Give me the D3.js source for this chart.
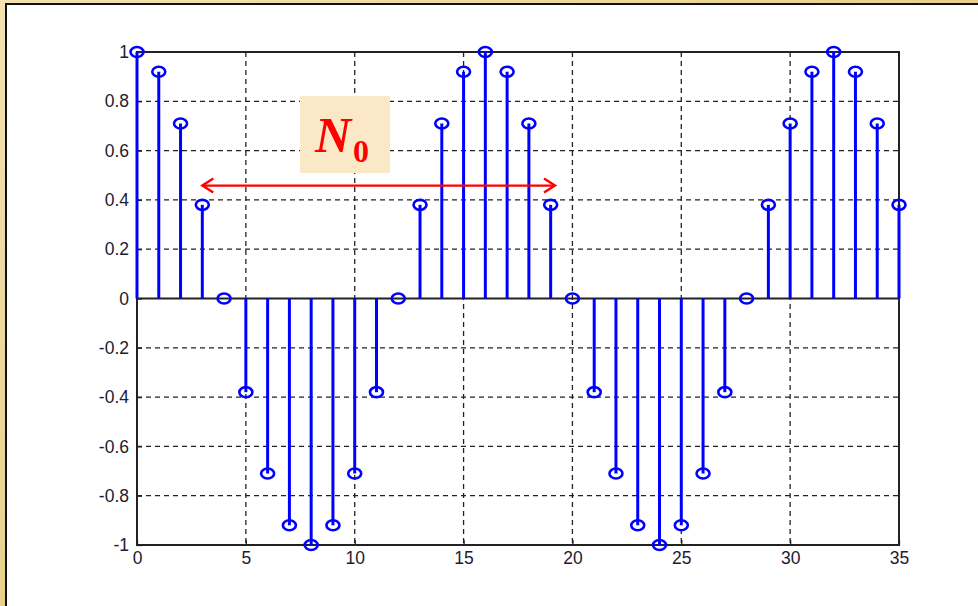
<!DOCTYPE html>
<html>
<head>
<meta charset="utf-8">
<script src="https://cdn.jsdelivr.net/npm/d3@7"></script>
<style>
  html, body { margin: 0; padding: 0; background: #efd9a0; }
  svg { display: block; }
</style>
</head>
<body>
<svg id="chart" width="978" height="606"></svg>
<script>
// sample index n = 0..35 and the stem values
var samples = [0,1,2,3,4,5,6,7,8,9,10,11,12,13,14,15,16,17,18,19,20,21,22,23,24,25,26,27,28,29,30,31,32,33,34,35];
var values = [1, 0.92, 0.71, 0.38, 0, -0.38, -0.71, -0.92, -1, -0.92, -0.71, -0.38,
              0, 0.38, 0.71, 0.92, 1, 0.92, 0.71, 0.38, 0, -0.38, -0.71, -0.92,
              -1, -0.92, -0.71, -0.38, 0, 0.38, 0.71, 0.92, 1, 0.92, 0.71, 0.38];
var xTicks = [0, 5, 10, 15, 20, 25, 30, 35];
var yTicks = [-1, -0.8, -0.6, -0.4, -0.2, 0, 0.2, 0.4, 0.6, 0.8, 1];
var arrowSpan = [3, 19.2];   // where the N0 arrow sits, in sample units
var arrowLevel = 0.458;

const svg = d3.select("#chart");

// gold frame + white panel
var defs = svg.append("defs");
var grad = defs.append("linearGradient").attr("id", "gold")
    .attr("x1", 0).attr("y1", 0).attr("x2", 1).attr("y2", 1);
grad.append("stop").attr("offset", "0%").attr("stop-color", "#f3e2b0");
grad.append("stop").attr("offset", "50%").attr("stop-color", "#e9d08e");
grad.append("stop").attr("offset", "100%").attr("stop-color", "#f1dca6");
svg.append("rect").attr("width", 978).attr("height", 606).attr("fill", "url(#gold)");
svg.append("rect").attr("x", 6).attr("y", 4).attr("width", 980).attr("height", 610)
    .attr("fill", "#fff").attr("stroke", "#111").attr("stroke-width", 2);

var x = d3.scaleLinear().domain([0, 35]).range([137, 899]);
var y = d3.scaleLinear().domain([-1, 1]).range([545, 52]);

// grid
const grid = svg.append("g")
    .attr("stroke", "#222")
    .attr("stroke-width", 1.3)
    .attr("stroke-dasharray", "5,4");
grid.selectAll("line.v")
    .data(xTicks.filter(d => d > 0 && d < 35))
    .enter().append("line")
    .attr("x1", d => x(d)).attr("x2", d => x(d))
    .attr("y1", y(1)).attr("y2", y(-1));
grid.selectAll("line.h")
    .data(yTicks.filter(d => d > -1 && d < 1 && d != 0))
    .enter().append("line")
    .attr("x1", x(0)).attr("x2", x(35))
    .attr("y1", d => y(d)).attr("y2", d => y(d));

// axes, ticks on the inside like matlab
const xAxis = svg.append("g")
    .attr("transform", `translate(0,${y(-1)})`)
    .call(d3.axisBottom(x).tickValues(xTicks).tickSizeInner(-5).tickSizeOuter(0).tickPadding(10)
        .tickFormat(d => String(d)));
const yAxis = svg.append("g")
    .attr("transform", `translate(${x(0)},0)`)
    .call(d3.axisLeft(y).tickValues(yTicks).tickSizeInner(-5).tickSizeOuter(0).tickPadding(8)
        .tickFormat(d => String(+d.toFixed(1))));
[xAxis, yAxis].forEach(function (a)
{
    a.select(".domain").remove();
    a.selectAll("line").attr("stroke", "#222").attr("stroke-width", 1.3);
    a.selectAll("text")
        .attr("font-family", "Arial, 'Liberation Sans', sans-serif")
        .attr("font-size", 17.5)
        .attr("fill", "#231a30");
});
xAxis.selectAll("text").attr("dy", "0.5em");

// box
svg.append("rect")
    .attr("x", x(0)).attr("y", y(1))
    .attr("width", x(35) - x(0)).attr("height", y(-1) - y(1))
    .attr("fill", "none").attr("stroke", "#222").attr("stroke-width", 2);

// baseline at zero
svg.append("line")
    .attr("x1", x(0)).attr("x2", x(35))
    .attr("y1", y(0)).attr("y2", y(0))
    .attr("stroke", "#222").attr("stroke-width", 1.8);

// stems
const pts = samples.map((n, i) => ({ n: n, v: values[i] }));
svg.append("g")
    .attr("stroke", "#0000ff")
    .attr("stroke-width", 3)
    .selectAll("line")
    .data(pts)
    .enter().append("line")
    .attr("x1", d => x(d.n)).attr("x2", d => x(d.n))
    .attr("y1", y(0)).attr("y2", d => y(d.v));

svg.append("g")
    .attr("stroke", "#0000ff")
    .attr("stroke-width", 2.6)
    .attr("fill", "none")
    .selectAll("ellipse")
    .data(pts)
    .enter().append("ellipse")
    .attr("cx", d => x(d.n)).attr("cy", d => y(d.v))
    .attr("rx", 6.5).attr("ry", 5);

// N0 label box
svg.append("rect")
    .attr("x", 300).attr("y", 96).attr("width", 90).attr("height", 77)
    .attr("fill", "#fbe8c6");
const lbl = svg.append("text")
    .attr("x", 315).attr("y", 152)
    .attr("font-family", "'Liberation Serif', 'Times New Roman', serif")
    .attr("font-weight", "bold")
    .attr("fill", "#ff0000");
lbl.append("tspan").attr("font-size", 50).attr("font-style", "italic").text("N");
lbl.append("tspan").attr("font-size", 32).attr("dx", 2).attr("dy", 10).text("0");

// double arrow
var ay = y(arrowLevel), ax1 = x(arrowSpan[0]), ax2 = x(arrowSpan[1]);
const arr = svg.append("g")
    .attr("stroke", "#ff0000")
    .attr("stroke-width", 2.4)
    .attr("fill", "none");
arr.append("line").attr("x1", ax1).attr("x2", ax2).attr("y1", ay).attr("y2", ay);
arr.append("path").attr("d", `M${ax1 + 11},${ay - 7} L${ax1},${ay} L${ax1 + 11},${ay + 7}`);
arr.append("path").attr("d", `M${ax2 - 11},${ay - 7} L${ax2},${ay} L${ax2 - 11},${ay + 7}`);
</script>
</body>
</html>
